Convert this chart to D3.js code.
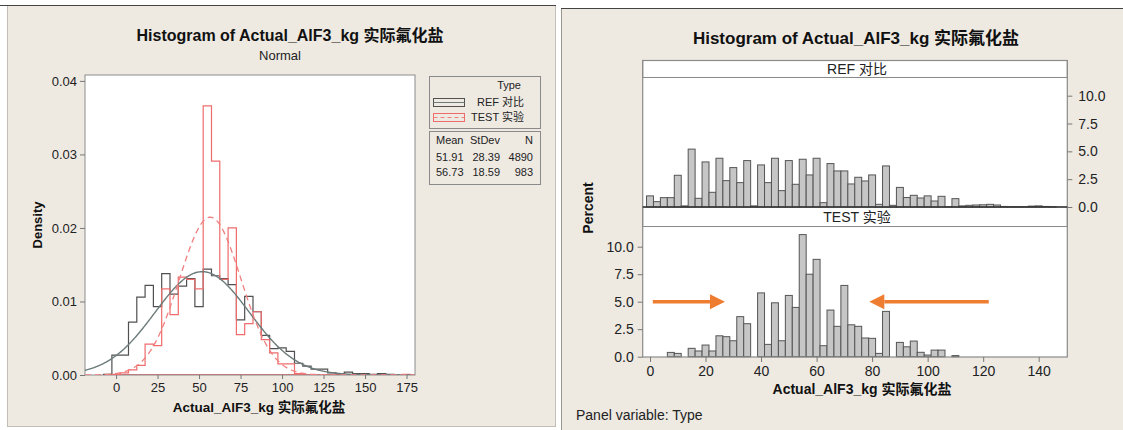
<!DOCTYPE html>
<html>
<head>
<meta charset="utf-8">
<script src="https://cdn.jsdelivr.net/npm/d3@7"></script>
<style>
  body { margin: 0; background: #fff; }
  text { font-family: "Liberation Sans", Arial, "Noto Sans CJK SC", sans-serif; }
</style>
</head>
<body>
<div id="chart"></div>
<script>
// ---- data ----
const typeLabels = ['REF 对比', 'TEST 实验'];
const means = [51.91, 56.73];
const stdevs = [28.39, 18.59];
const counts = [4890, 983];

// left chart: density histogram, bin width 5
const densityBins = [-5,0,5,10,15,20,25,30,35,40,45,50,55,60,65,70,75,80,85,90,95,100,105,110,115,120,125,130,135,140,145,150,155,160,165,170,175];
const refDensity  = [0.0001,0.0027,0.0027,0.0072,0.0106,0.0122,0.0093,0.0138,0.0110,0.0121,0.0131,0.0093,0.0144,0.0135,0.0131,0.0123,0.0075,0.0107,0.0086,0.0054,0.0036,0.0037,0.0032,0.0016,0.0012,0.0008,0.0008,0.0003,0.0002,0.0004,0.0002,0.0002,0.0001,0.0002,0.0001,0,0];
const testDensity = [0,0.0001,0.0003,0.0007,0.0013,0.0042,0.0040,0.0117,0.0082,0.0133,0.0130,0.0117,0.0366,0.0291,0.0130,0.0200,0.0055,0.0070,0.0086,0.0048,0.0030,0.0015,0.0015,0.0002,0,0,0,0,0,0,0,0,0,0,0,0,0.0001];
const densityTicks = [0, 0.01, 0.02, 0.03, 0.04];
const xTicksLeft = [0, 25, 50, 75, 100, 125, 150, 175];

// right chart: percent histogram per panel, bin width 2.5
const pctBins = [0,2.5,5,7.5,10,12.5,15,17.5,20,22.5,25,27.5,30,32.5,35,37.5,40,42.5,45,47.5,50,52.5,55,57.5,60,62.5,65,67.5,70,72.5,75,77.5,80,82.5,85,87.5,90,92.5,95,97.5,100,102.5,105,107.5,110,112.5,115,117.5,120,122.5,125,127.5,130,132.5,135,137.5,140,142.5,145];
const refPercent  = [1.0,0.48,0.84,0.84,2.85,0.1,5.2,0.78,4.05,1.32, 4.38,2.37,3.54,2.19,4.17,0.1,3.78,2.19,4.38,1.47, 4.17,2.04,4.29,2.88,4.38,0.39,3.9,3.24,3.24,2.07, 2.67,2.34,2.88,0.24,3.69,0.15,1.76,0.85,1.05,0.81, 1.0,0.54,0.96,0.03,0.75,0.1,0.15,0.18,0.2,0.24, 0.18,0.05,0.03,0.03,0.03,0.08,0.1,0.05,0.03];
const testPercent = [0,0,0,0.39,0.3,0,0.76,0.52,1.06,0.52, 1.9,1.82,1.45,3.64,3.0,0,5.8,1.12,4.9,1.45, 5.57,4.48,11.1,7.5,8.85,1.0,4.24,2.76,6.48,2.9, 2.76,1.7,1.67,0.3,4.12,0,1.3,0.9,1.42,0.4, 0.15,0.6,0.6,0,0.1,0,0,0,0,0, 0,0,0,0,0,0,0,0,0];
const percentTicks = [0, 2.5, 5, 7.5, 10];
const xTicksRight = [0, 20, 40, 60, 80, 100, 120, 140];

// orange annotation arrows on the TEST panel (x values, % level)
const arrowFrom = [1, 122];
const arrowTo = [27, 79];
const arrowLevel = 5;

const BEIGE = '#eeeae2';
const REF_LINE = '#505050';
const TEST_LINE = '#f06c6c';

const svg = d3.select('#chart').append('svg')
  .attr('width', 1123).attr('height', 430);

// ---------- backgrounds ----------
svg.append('rect').attr('x', 7.5).attr('y', 5.5).attr('width', 548).attr('height', 421)
  .attr('fill', BEIGE).attr('stroke', '#c2beb6');
svg.append('line').attr('x1', 0).attr('x2', 556).attr('y1', 5.5).attr('y2', 5.5)
  .attr('stroke', '#444').attr('stroke-width', 1.2);
svg.append('rect').attr('x', 561.5).attr('y', 8.5).attr('width', 565).attr('height', 425)
  .attr('fill', BEIGE).attr('stroke', '#9a968e');
svg.append('line').attr('x1', 561).attr('x2', 1123).attr('y1', 8.5).attr('y2', 8.5)
  .attr('stroke', '#444').attr('stroke-width', 1.2);

function styleAxis(g, size) {
  g.select('.domain').remove();
  g.selectAll('.tick line').attr('stroke', '#777');
  g.selectAll('.tick text').attr('fill', '#222').style('font-size', size + 'px');
}

// ================= LEFT: density histogram with normal fits =================
const xL = d3.scaleLinear().domain([-18.7, 180.1]).range([85, 415]);
const yL = d3.scaleLinear().domain([0, 0.0408]).range([375, 75]);

const left = svg.append('g');

left.append('text').attr('x', 290).attr('y', 41).attr('text-anchor', 'middle')
  .style('font-size', '16px').style('font-weight', 'bold').attr('fill', '#111')
  .text('Histogram of Actual_AlF3_kg 实际氟化盐');
left.append('text').attr('x', 280).attr('y', 59.5).attr('text-anchor', 'middle')
  .style('font-size', '13px').attr('fill', '#222').text('Normal');

left.append('rect').attr('x', 85).attr('y', 75).attr('width', 330).attr('height', 300)
  .attr('fill', '#fff').attr('stroke', '#8c8c8c');

left.append('clipPath').attr('id', 'clipL')
  .append('rect').attr('x', 85).attr('y', 75).attr('width', 330).attr('height', 300);

const plotL = left.append('g').attr('clip-path', 'url(#clipL)');

function stepPoints(centers, vals, w) {
  const pts = [[centers[0] - w / 2, 0]];
  centers.forEach((c, i) => {
    pts.push([c - w / 2, vals[i]], [c + w / 2, vals[i]]);
  });
  pts.push([centers[centers.length - 1] + w / 2, 0]);
  return pts;
}
const lineL = d3.line().x(d => xL(d[0])).y(d => yL(d[1]));

function normalPts(m, s) {
  return d3.range(-18.7, 180.2, 0.5)
    .map(v => [v, Math.exp(-0.5 * ((v - m) / s) ** 2) / (s * Math.sqrt(2 * Math.PI))]);
}

plotL.append('path').attr('d', lineL(stepPoints(densityBins, refDensity, 5)) + 'Z')
  .attr('fill', 'none').attr('stroke', REF_LINE).attr('stroke-width', 1.2);
plotL.append('path').attr('d', lineL(stepPoints(densityBins, testDensity, 5)) + 'Z')
  .attr('fill', 'none').attr('stroke', TEST_LINE).attr('stroke-width', 1.2);

plotL.append('path').attr('d', lineL(normalPts(means[0], stdevs[0])))
  .attr('fill', 'none').attr('stroke', '#6d7b7b').attr('stroke-width', 1.4);
plotL.append('path').attr('d', lineL(normalPts(means[1], stdevs[1])))
  .attr('fill', 'none').attr('stroke', '#f08080').attr('stroke-width', 1.3)
  .attr('stroke-dasharray', '6,4');

const axYL = left.append('g').attr('transform', 'translate(85,0)')
  .call(d3.axisLeft(yL).tickValues(densityTicks).tickFormat(d3.format('.2f')).tickSize(5).tickPadding(3));
styleAxis(axYL, 13);
const axXL = left.append('g').attr('transform', 'translate(0,375)')
  .call(d3.axisBottom(xL).tickValues(xTicksLeft).tickSize(4).tickPadding(4));
styleAxis(axXL, 13);

left.append('text').attr('transform', 'translate(41.5,225) rotate(-90)')
  .attr('text-anchor', 'middle').style('font-size', '13px').style('font-weight', 'bold')
  .attr('fill', '#111').text('Density');
left.append('text').attr('x', 259).attr('y', 412).attr('text-anchor', 'middle')
  .style('font-size', '13.5px').style('font-weight', 'bold').attr('fill', '#111')
  .text('Actual_AlF3_kg 实际氟化盐');

// legend
const leg = left.append('g');
leg.append('rect').attr('x', 429.5).attr('y', 76.5).attr('width', 111).attr('height', 52)
  .attr('fill', BEIGE).attr('stroke', '#8a8a8a');
leg.append('text').attr('x', 521).attr('y', 88.5).attr('text-anchor', 'end')
  .style('font-size', '11px').attr('fill', '#222').text('Type');
const swatchY = [98.5, 113.5];
typeLabels.forEach((t, i) => {
  const col = i === 0 ? REF_LINE : TEST_LINE;
  leg.append('rect').attr('x', 433.5).attr('y', swatchY[i]).attr('width', 31).attr('height', 8)
    .attr('fill', 'none').attr('stroke', col).attr('stroke-width', 1);
  leg.append('line').attr('x1', 433.5).attr('x2', 464.5)
    .attr('y1', swatchY[i] + 4).attr('y2', swatchY[i] + 4)
    .attr('stroke', i === 0 ? '#6d7b7b' : '#f08080')
    .attr('stroke-dasharray', i === 0 ? null : '4,3');
  leg.append('text').attr('x', 524).attr('y', swatchY[i] + 7.5).attr('text-anchor', 'end')
    .style('font-size', '11px').attr('fill', '#222').text(t);
});
leg.append('rect').attr('x', 429.5).attr('y', 131.5).attr('width', 111).attr('height', 53)
  .attr('fill', BEIGE).attr('stroke', '#8a8a8a');
const colRight = [463.5, 500, 533];
const statHeads = ['Mean', 'StDev', 'N'];
statHeads.forEach((h, j) => {
  leg.append('text').attr('x', colRight[j]).attr('y', 144).attr('text-anchor', 'end')
    .style('font-size', '11px').attr('fill', '#222').text(h);
});
[160.5, 176].forEach((yy, i) => {
  [means[i].toFixed(2), stdevs[i].toFixed(2), String(counts[i])].forEach((s, j) => {
    leg.append('text').attr('x', colRight[j]).attr('y', yy).attr('text-anchor', 'end')
      .style('font-size', '11px').attr('fill', '#222').text(s);
  });
});

// ================= RIGHT: paneled percent histograms =================
const x2 = d3.scaleLinear().domain([-2.63, 150.3]).range([642.7, 1067.3]);
const yTop = d3.scaleLinear().domain([0, 10]).range([207, 95.7]);
const yBot = d3.scaleLinear().domain([0, 10]).range([356.7, 246.7]);
const PL = 642.7, PR = 1067.3;

const right = svg.append('g');

right.append('text').attr('x', 856).attr('y', 44).attr('text-anchor', 'middle')
  .style('font-size', '17px').style('font-weight', 'bold').attr('fill', '#111')
  .text('Histogram of Actual_AlF3_kg 实际氟化盐');

// panel strips and plot areas
const strips = [
  {y0: 60.5, y1: 77.5, label: typeLabels[0]},
  {y0: 207, y1: 226.5, label: typeLabels[1]}
];
right.append('rect').attr('x', PL).attr('y', 77.5).attr('width', PR - PL).attr('height', 207 - 77.5)
  .attr('fill', '#fff');
right.append('rect').attr('x', PL).attr('y', 226.5).attr('width', PR - PL).attr('height', 357 - 226.5)
  .attr('fill', '#fff');
strips.forEach(s => {
  right.append('rect').attr('x', PL).attr('y', s.y0).attr('width', PR - PL).attr('height', s.y1 - s.y0)
    .attr('fill', '#fff').attr('stroke', '#8a8a8a');
  right.append('text').attr('x', 857).attr('y', (s.y0 + s.y1) / 2 + 5).attr('text-anchor', 'middle')
    .style('font-size', '14px').attr('fill', '#222').text(s.label);
});

const bw = x2(2.5) - x2(0);
function drawBars(vals, y) {
  right.append('g').selectAll('rect')
    .data(pctBins.map((c, i) => ({c: c, v: vals[i]})).filter(d => d.v > 0))
    .join('rect')
      .attr('x', d => x2(d.c - 1.25))
      .attr('width', bw)
      .attr('y', d => y(d.v))
      .attr('height', d => y(0) - y(d.v))
      .attr('fill', '#c6c6c6')
      .attr('stroke', '#555')
      .attr('stroke-width', 1);
}
drawBars(refPercent, yTop);
drawBars(testPercent, yBot);

// frame over everything
right.append('rect').attr('x', PL).attr('y', 60.5).attr('width', PR - PL).attr('height', 357 - 60.5)
  .attr('fill', 'none').attr('stroke', '#8a8a8a').attr('stroke-width', 1.2);
right.append('line').attr('x1', PL).attr('x2', PR).attr('y1', yTop(0)).attr('y2', yTop(0))
  .attr('stroke', '#333').attr('stroke-width', 1.3);

const axTop = right.append('g').attr('transform', `translate(${PR},0)`)
  .call(d3.axisRight(yTop).tickValues(percentTicks).tickFormat(d3.format('.1f')).tickSize(5).tickPadding(6));
styleAxis(axTop, 14);
const axBot = right.append('g').attr('transform', `translate(${PL},0)`)
  .call(d3.axisLeft(yBot).tickValues(percentTicks).tickFormat(d3.format('.1f')).tickSize(5).tickPadding(4));
styleAxis(axBot, 14);
const axX2 = right.append('g').attr('transform', 'translate(0,357)')
  .call(d3.axisBottom(x2).tickValues(xTicksRight).tickSize(5).tickPadding(4));
styleAxis(axX2, 14);

right.append('text').attr('transform', 'translate(593,208) rotate(-90)')
  .attr('text-anchor', 'middle').style('font-size', '14px').style('font-weight', 'bold')
  .attr('fill', '#111').text('Percent');
right.append('text').attr('x', 862).attr('y', 394).attr('text-anchor', 'middle')
  .style('font-size', '14px').style('font-weight', 'bold').attr('fill', '#111')
  .text('Actual_AlF3_kg 实际氟化盐');
right.append('text').attr('x', 576).attr('y', 420)
  .style('font-size', '14px').attr('fill', '#222').text('Panel variable: Type');

// orange arrows
const ORANGE = '#ee7d31';
arrowFrom.forEach((a, i) => {
  const xs = x2(a), xe = x2(arrowTo[i]), yy = yBot(arrowLevel);
  const dir = xe > xs ? 1 : -1;
  const headLen = 15, headHalf = 7.5;
  right.append('line').attr('x1', xs).attr('x2', xe - dir * headLen).attr('y1', yy).attr('y2', yy)
    .attr('stroke', ORANGE).attr('stroke-width', 3.5);
  right.append('path')
    .attr('d', `M${xe},${yy} L${xe - dir * headLen},${yy - headHalf} L${xe - dir * headLen},${yy + headHalf} Z`)
    .attr('fill', ORANGE);
});
</script>
</body>
</html>
